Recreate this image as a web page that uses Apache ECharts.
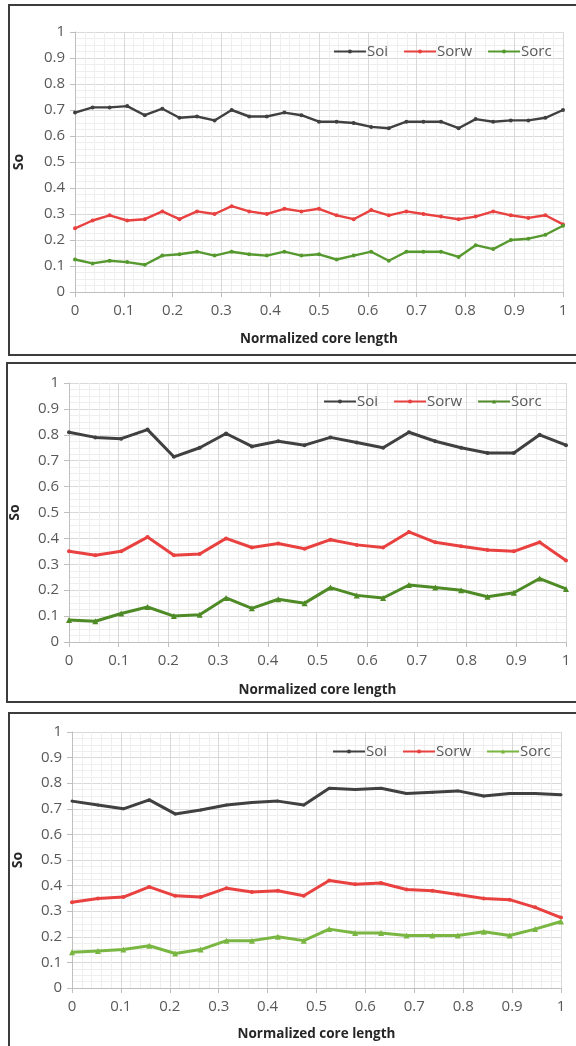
<!DOCTYPE html>
<html><head><meta charset="utf-8">
<script src="https://cdn.jsdelivr.net/npm/echarts@6/dist/echarts.min.js"></script>
<style>html,body{margin:0;padding:0;background:#fff}#c{width:576px;height:1046px}</style>
</head><body><div id="c"></div>
<script>
// positions along normalized core length
const xs1 = [0,0.036,0.071,0.107,0.143,0.179,0.214,0.25,0.286,0.321,0.357,0.393,0.429,0.464,0.5,0.536,0.571,0.607,0.643,0.679,0.714,0.75,0.786,0.821,0.857,0.893,0.929,0.964,1];
const xs2 = [0,0.053,0.105,0.158,0.211,0.263,0.316,0.368,0.421,0.474,0.526,0.579,0.632,0.684,0.737,0.789,0.842,0.895,0.947,1];
const seriesNames = ['Soi','Sorw','Sorc'];
const xTicks = [0,0.1,0.2,0.3,0.4,0.5,0.6,0.7,0.8,0.9,1];
const yTicks = [0,0.1,0.2,0.3,0.4,0.5,0.6,0.7,0.8,0.9,1];

// Panel 1
const soi1  = [0.69,0.71,0.71,0.715,0.68,0.705,0.67,0.675,0.66,0.70,0.675,0.675,0.69,0.68,0.655,0.655,0.65,0.635,0.63,0.655,0.655,0.655,0.63,0.665,0.655,0.66,0.66,0.67,0.70];
const sorw1 = [0.245,0.275,0.295,0.275,0.28,0.31,0.28,0.31,0.30,0.33,0.31,0.30,0.32,0.31,0.32,0.295,0.28,0.315,0.295,0.31,0.30,0.29,0.28,0.29,0.31,0.295,0.285,0.295,0.26];
const sorc1 = [0.125,0.11,0.12,0.115,0.105,0.14,0.145,0.155,0.14,0.155,0.145,0.14,0.155,0.14,0.145,0.125,0.14,0.155,0.12,0.155,0.155,0.155,0.135,0.18,0.165,0.20,0.205,0.22,0.255];
// Panel 2
const soi2  = [0.81,0.79,0.785,0.82,0.715,0.75,0.805,0.755,0.775,0.76,0.79,0.77,0.75,0.81,0.775,0.75,0.73,0.73,0.80,0.76];
const sorw2 = [0.35,0.335,0.35,0.405,0.335,0.34,0.40,0.365,0.38,0.36,0.395,0.375,0.365,0.425,0.385,0.37,0.355,0.35,0.385,0.315];
const sorc2 = [0.085,0.08,0.11,0.135,0.10,0.105,0.17,0.13,0.165,0.15,0.21,0.18,0.17,0.22,0.21,0.20,0.175,0.19,0.245,0.205];
// Panel 3
const soi3  = [0.73,0.715,0.70,0.735,0.68,0.695,0.715,0.725,0.73,0.715,0.78,0.775,0.78,0.76,0.765,0.77,0.75,0.76,0.76,0.755];
const sorw3 = [0.335,0.35,0.355,0.395,0.36,0.355,0.39,0.375,0.38,0.36,0.42,0.405,0.41,0.385,0.38,0.365,0.35,0.345,0.315,0.275];
const sorc3 = [0.14,0.145,0.15,0.165,0.135,0.15,0.185,0.185,0.20,0.185,0.23,0.215,0.215,0.205,0.205,0.205,0.22,0.205,0.23,0.26];

const FONT = 'Open Sans';
const labelColor = '#595959';
const panels = [
  {grid:{left:75,top:32,width:488,height:260}, xs:xs1, data:[soi1,sorw1,sorc1],
   colors:['#404040','#e8413f','#56992e'], width:2.4, sym:['circle','circle','circle'], symSize:[4,4,4],
   legend:{left:328,top:39}, yGap:49, xGap:40},
  {grid:{left:66,top:383,width:500,height:259}, xs:xs2, data:[soi2,sorw2,sorc2],
   colors:['#404040','#e8413f','#4e8a26'], width:3, sym:['circle','circle','triangle'], symSize:[4,4,6],
   legend:{left:318,top:389}, yGap:47, xGap:41},
  {grid:{left:72,top:732,width:489,height:256}, xs:xs2, data:[soi3,sorw3,sorc3],
   colors:['#404040','#e8413f','#7ab642'], width:3, sym:['circle','circle','triangle'], symSize:[3,4,6],
   legend:{left:327,top:739}, yGap:47, xGap:39}
];

const option = {
  animation:false,
  textStyle:{fontFamily:FONT},
  grid:[], xAxis:[], yAxis:[], legend:[], series:[],
  graphic:[
    {type:'rect', shape:{x:9,y:5,width:600,height:350}, style:{fill:'none',stroke:'#3c3c3c',lineWidth:2}},
    {type:'rect', shape:{x:7,y:363,width:600,height:339}, style:{fill:'none',stroke:'#3c3c3c',lineWidth:2}},
    {type:'rect', shape:{x:9,y:713,width:600,height:360}, style:{fill:'none',stroke:'#3c3c3c',lineWidth:2}}
  ]
};

panels.forEach((p,i)=>{
  option.grid.push(Object.assign({containLabel:false}, p.grid));
  option.xAxis.push({
    type:'value', gridIndex:i, min:xTicks[0], max:xTicks[xTicks.length-1], interval:0.1,
    name:'Normalized core length', nameLocation:'middle', nameGap:p.xGap,
    nameTextStyle:{fontFamily:FONT,fontWeight:'bold',fontSize:13.5,color:'#262626'},
    axisLine:{show:true,lineStyle:{color:'#bfbfbf',width:1}},
    axisTick:{show:true,length:5,lineStyle:{color:'#bfbfbf'}},
    axisLabel:{fontFamily:FONT,fontSize:15,color:labelColor,margin:11,
      formatter:v=>String(+v.toFixed(1))},
    splitLine:{show:true,lineStyle:{color:'#d9d9d9',width:1}},
    minorTick:{show:false,splitNumber:5},
    minorSplitLine:{show:true,lineStyle:{color:'#eeeeee',width:1}}
  });
  option.yAxis.push({
    type:'value', gridIndex:i, min:yTicks[0], max:yTicks[yTicks.length-1], interval:0.1,
    name:'So', nameLocation:'middle', nameGap:p.yGap,
    nameTextStyle:{fontFamily:FONT,fontWeight:'bold',fontSize:14,color:'#262626'},
    axisLine:{show:true,lineStyle:{color:'#bfbfbf',width:1}},
    axisTick:{show:true,length:5,lineStyle:{color:'#bfbfbf'}},
    axisLabel:{fontFamily:FONT,fontSize:15,color:labelColor,margin:10,
      formatter:v=>String(+v.toFixed(1))},
    splitLine:{show:true,lineStyle:{color:'#d9d9d9',width:1}},
    minorTick:{show:false,splitNumber:4},
    minorSplitLine:{show:true,lineStyle:{color:'#eeeeee',width:1}}
  });
  const ids = seriesNames.map(n=>n+'_'+i);
  option.legend.push({
    left:p.legend.left, top:p.legend.top, itemWidth:32, itemHeight:5, itemGap:15,
    data:ids, formatter:n=>n.split('_')[0],
    textStyle:{fontFamily:FONT,fontSize:15,color:labelColor,padding:[0,0,0,-4]}
  });
  seriesNames.forEach((n,k)=>{
    option.series.push({
      type:'line', name:ids[k], xAxisIndex:i, yAxisIndex:i,
      data:p.xs.map((x,j)=>[x,p.data[k][j]]),
      symbol:p.sym[k], symbolSize:p.symSize[k], showSymbol:true,
      lineStyle:{color:p.colors[k],width:p.width},
      itemStyle:{color:p.colors[k]}
    });
  });
});

const chart = echarts.init(document.getElementById('c'),null,{renderer:'canvas'});
chart.setOption(option);
</script></body></html>
